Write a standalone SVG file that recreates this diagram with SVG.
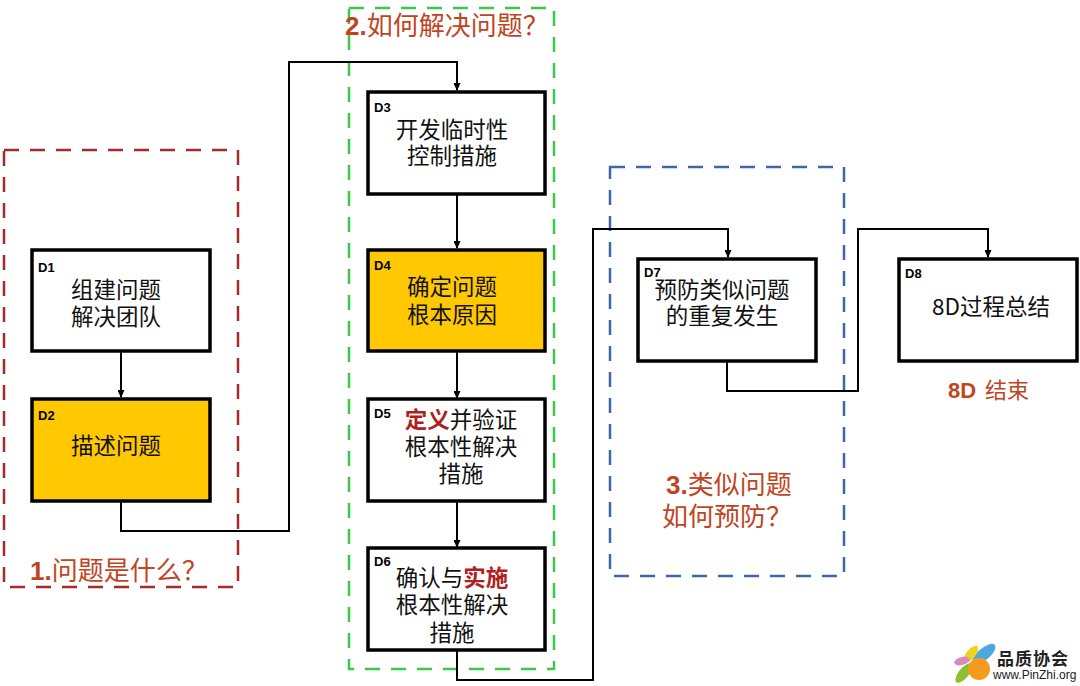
<svg xmlns="http://www.w3.org/2000/svg" width="1080" height="686" viewBox="0 0 1080 686">
<defs>
<marker id="a" markerUnits="userSpaceOnUse" markerWidth="8" markerHeight="7" refX="7" refY="3.5" orient="auto"><path d="M0 0L8 3.5L0 7z" fill="#000"/></marker>
</defs>
<style>
text{font-family:"Noto Sans CJK SC","Liberation Sans",sans-serif}
.b{fill:#fff;stroke:#000;stroke-width:3.5}
.y{fill:#ffc800;stroke:#000;stroke-width:3.5}
.d{font-family:"Liberation Sans",sans-serif;font-size:13px;font-weight:700;fill:#000}
.t{font-size:22.5px;fill:#111;text-anchor:middle}
.r{fill:#b02020;font-weight:700}
.h{font-size:26px;fill:#c0451f}
.n{font-family:"Liberation Sans",sans-serif;font-weight:700}
.c{fill:none;stroke:#000;stroke-width:2}
.e{fill:none;stroke-width:2.5;stroke-dasharray:15 11}
</style>
<rect width="1080" height="686" fill="#fff"/>
<g id="regions">
<rect class="e" x="4" y="150" width="234" height="437" stroke="#a52a2a"/>
<rect class="e" x="349" y="8" width="205" height="661" stroke="#3cc84b"/>
<rect class="e" x="610" y="167" width="234" height="409" stroke="#3f67a8"/>
</g>
<g id="connectors">
<path class="c" d="M121 352V397" marker-end="url(#a)"/>
<path class="c" d="M121 501V531H289V62H457V90" marker-end="url(#a)"/>
<path class="c" d="M457 194V248" marker-end="url(#a)"/>
<path class="c" d="M457 351V398" marker-end="url(#a)"/>
<path class="c" d="M457 501V547" marker-end="url(#a)"/>
<path class="c" d="M457 651V680H593V229H728V257" marker-end="url(#a)"/>
<path class="c" d="M727 361V391H858V229H988V257" marker-end="url(#a)"/>
</g>
<g id="D1"><rect class="b" x="32" y="250" width="178" height="101"/><text class="d" x="38" y="272">D1</text><text class="t"><tspan x="116" y="298">组建问题</tspan><tspan x="116" y="325">解决团队</tspan></text></g>
<g id="D2"><rect class="y" x="32" y="399" width="178" height="102"/><text class="d" x="38" y="420">D2</text><text class="t" x="116" y="454">描述问题</text></g>
<g id="D3"><rect class="b" x="368" y="92" width="177" height="102"/><text class="d" x="374" y="112">D3</text><text class="t"><tspan x="452" y="138">开发临时性</tspan><tspan x="452" y="164">控制措施</tspan></text></g>
<g id="D4"><rect class="y" x="368" y="250" width="177" height="101"/><text class="d" x="374" y="270">D4</text><text class="t"><tspan x="452" y="295">确定问题</tspan><tspan x="452" y="323">根本原因</tspan></text></g>
<g id="D5"><rect class="b" x="368" y="399" width="177" height="102"/><text class="d" x="374" y="418">D5</text><text class="t"><tspan x="461" y="428"><tspan class="r">定义</tspan>并验证</tspan><tspan x="461" y="455">根本性解决</tspan><tspan x="461" y="482">措施</tspan></text></g>
<g id="D6"><rect class="b" x="368" y="548" width="177" height="102"/><text class="d" x="374" y="566">D6</text><text class="t"><tspan x="452" y="586">确认与<tspan class="r">实施</tspan></tspan><tspan x="452" y="613">根本性解决</tspan><tspan x="452" y="641">措施</tspan></text></g>
<g id="D7"><rect class="b" x="638" y="259" width="178" height="102"/><text class="d" x="644" y="277">D7</text><text class="t"><tspan x="722" y="298">预防类似问题</tspan><tspan x="722" y="324">的重复发生</tspan></text></g>
<g id="D8"><rect class="b" x="899" y="259" width="178" height="102"/><text class="d" x="905" y="278">D8</text><text class="t" x="991" y="315">8D过程总结</text></g>
<g id="labels">
<text class="h" x="30" y="580"><tspan class="n">1.</tspan>问题是什么？</text>
<text class="h" x="345" y="35"><tspan class="n">2.</tspan>如何解决问题？</text>
<text class="h"><tspan x="666" y="494"><tspan class="n">3.</tspan>类似问题</tspan><tspan x="662" y="526">如何预防？</tspan></text>
<text y="398" font-size="22" font-weight="700" fill="#c0451f"><tspan class="n" x="948">8D</tspan><tspan font-weight="400" x="985">结束</tspan></text>
</g>
<g id="logo">
<ellipse cx="984" cy="654" rx="14" ry="6" fill="#4aa8e0" transform="rotate(-40 984 654)"/>
<ellipse cx="971" cy="654" rx="10" ry="4.5" fill="#f2d020" transform="rotate(-50 971 654)"/>
<ellipse cx="962" cy="661" rx="8" ry="4" fill="#d88ac0" transform="rotate(-15 962 661)"/>
<ellipse cx="964" cy="673" rx="12" ry="5" fill="#8cc030" transform="rotate(-50 964 673)"/>
<circle cx="979" cy="669" r="11" fill="#f59a1e"/>
<text x="997" y="665" font-size="17" font-weight="700" letter-spacing="1" fill="#222">品质协会</text>
<text x="993" y="679" style="font-family:'Liberation Sans',sans-serif" font-size="12" fill="#222">www.PinZhi.org</text>
</g>
</svg>
